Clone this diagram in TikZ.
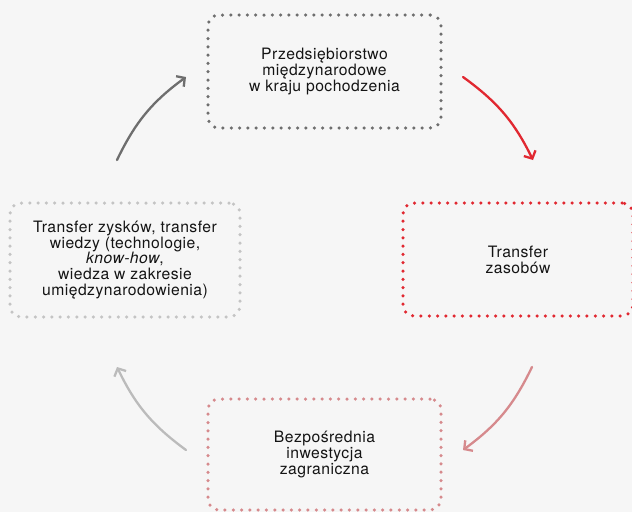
\documentclass[tikz,border=0pt]{standalone}
\usepackage{fontspec}
\setmainfont{TeX Gyre Heros}[LetterSpace=3]
\usetikzlibrary{arrows.meta}
\definecolor{bgc}{HTML}{F6F6F6}
\definecolor{darkg}{HTML}{6E6E6E}
\definecolor{lightg}{HTML}{C4C4C4}
\definecolor{lightga}{HTML}{BBBBBB}
\definecolor{redc}{HTML}{E12831}
\definecolor{pinkc}{HTML}{D68A8D}
\tikzset{
  dotbox/.style={draw=#1, line width=3.5pt, line cap=round,
    dash pattern=on 0pt off 8.3pt, rounded corners=11pt,
    align=center, inner sep=0pt,
    font=\fontsize{15.7}{15.8}\selectfont, text=black!92},
  cyc/.style={draw=#1, line width=2.3pt, line cap=round,
    -{Straight Barb[length=6pt,width=13pt,line width=2.3pt]}, bend left=14},
}
\begin{document}
\begin{tikzpicture}[x=1pt,y=-1pt]
\fill[bgc] (0,0) rectangle (632,512);
\useasboundingbox (0,0) rectangle (632,512);
\node[dotbox=darkg, minimum width=233pt, minimum height=113pt] (top) at (324.5,71.5)
  {Przedsiębiorstwo\\międzynarodowe\\w kraju pochodzenia};
\node[dotbox=redc, minimum width=230pt, minimum height=113pt] (right) at (518,259.5)
  {Transfer\\zasobów};
\node[dotbox=pinkc, minimum width=233pt, minimum height=111pt] (bottom) at (324.5,454.5)
  {Bezpośrednia\\inwestycja\\zagraniczna};
\node[dotbox=lightg, minimum width=230pt, minimum height=114pt] (left) at (125,260)
  {Transfer zysków, transfer\\wiedzy (technologie,\\\textit{know-how},\\wiedza w zakresie\\umiędzynarodowienia)};
\coordinate (a1s) at (117,160); \coordinate (a1e) at (186,77);
\coordinate (a2s) at (463,77); \coordinate (a2e) at (533,160);
\coordinate (a3s) at (532,367); \coordinate (a3e) at (463,450);
\coordinate (a4s) at (186,450); \coordinate (a4e) at (117,367);
\draw[cyc=darkg] (a1s) to (a1e);
\draw[cyc=redc] (a2s) to (a2e);
\draw[cyc=pinkc] (a3s) to (a3e);
\draw[cyc=lightga] (a4s) to (a4e);
\end{tikzpicture}
\end{document}
